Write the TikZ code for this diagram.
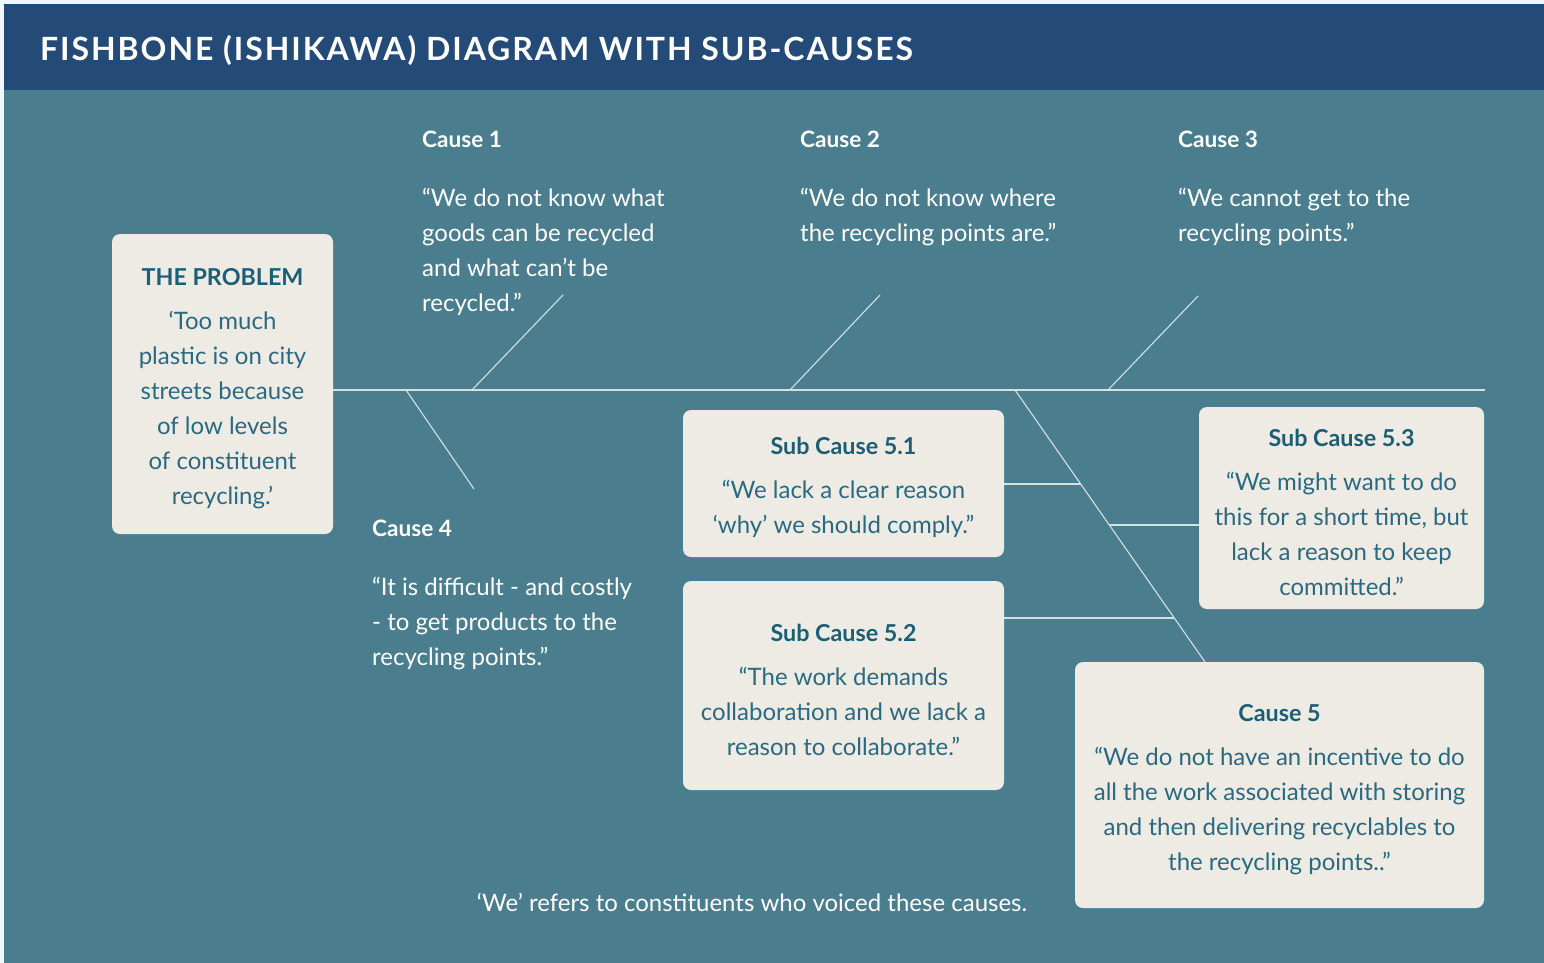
\documentclass[tikz,border=0pt]{standalone}
\usepackage{fontspec}
\setmainfont{Lato}
\newfontfamily\titlefont{Lato}[LetterSpace=6]
\definecolor{margincol}{HTML}{F2F6FA}
\definecolor{headcol}{HTML}{244A77}
\definecolor{tealbg}{HTML}{4A7E8E}
\definecolor{boxfill}{HTML}{EEEBE5}
\definecolor{boxhead}{HTML}{1C5E74}
\definecolor{boxtext}{HTML}{2A6A80}
\definecolor{linecol}{HTML}{D5E0E3}
\tikzset{
  box/.style={fill=boxfill, rounded corners=8pt, inner sep=0pt, align=center,
    font=\fontsize{24}{35}\selectfont, text=boxtext},
  bodytxt/.style={inner sep=0pt, align=left, text=white,
    font=\fontsize{24}{35}\selectfont},
  headtxt/.style={inner sep=0pt, text=white, font=\fontsize{22.6}{26}\selectfont\bfseries},
  spine/.style={draw=linecol, line width=1.6pt},
  bone/.style={draw=linecol, line width=1.1pt},
}
\newcommand{\bh}[1]{\rule{0pt}{26pt}{\color{boxhead}\fontsize{23.3}{26}\selectfont\bfseries #1}}
\begin{document}
\begin{tikzpicture}[x=1pt,y=-1pt]
\useasboundingbox (0,0) rectangle (1544,963);
\fill[margincol] (0,0) rectangle (1544,963);
\fill[tealbg] (4,90) rectangle (1544,963);
\fill[headcol] (4,4) rectangle (1544,90);
\node[inner sep=0pt, anchor=base west, text=white, font=\titlefont\fontsize{32}{36}\selectfont\bfseries] (title) at (40,61) {FISHBONE (ISHIKAWA) DIAGRAM WITH SUB-CAUSES};

% boxes
\node[box, minimum width=221pt, minimum height=300pt] (problem) at (222.5,384) {\bh{THE PROBLEM}\\[9pt]‘Too much\\plastic is on city\\streets because\\of low levels\\of constituent\\recycling.’};
\node[box, minimum width=321pt, minimum height=147pt] (sub51) at (843.5,483.5) {\bh{Sub Cause 5.1}\\[9pt]“We lack a clear reason\\‘why’ we should comply.”};
\node[box, minimum width=321pt, minimum height=209pt] (sub52) at (843.5,685.5) {\bh{Sub Cause 5.2}\\[9pt]“The work demands\\collaboration and we lack a\\reason to collaborate.”};
\node[box, minimum width=285pt, minimum height=202pt] (sub53) at (1341.5,508) {\bh{Sub Cause 5.3}\\[9pt]“We might want to do\\this for a short time, but\\lack a reason to keep\\committed.”};
\node[box, minimum width=409pt, minimum height=246pt] (cause5) at (1279.5,785) {\bh{Cause 5}\\[9pt]“We do not have an incentive to do\\all the work associated with storing\\and then delivering recyclables to\\the recycling points..”};

% cause texts (base anchor = baseline of last line)
\node[headtxt, anchor=base west] (c1h) at (422,147) {Cause 1};
\node[bodytxt, anchor=base west] (c1t) at (422,311) {“We do not know what\\goods can be recycled\\and what can’t be\\recycled.”};
\node[headtxt, anchor=base west] (c2h) at (800,147) {Cause 2};
\node[bodytxt, anchor=base west] (c2t) at (800,241) {“We do not know where\\the recycling points are.”};
\node[headtxt, anchor=base west] (c3h) at (1178,147) {Cause 3};
\node[bodytxt, anchor=base west] (c3t) at (1178,241) {“We cannot get to the\\recycling points.”};
\node[headtxt, anchor=base west] (c4h) at (372,536) {Cause 4};
\node[bodytxt, anchor=base west] (c4t) at (372,665) {“It is difficult - and costly\\- to get products to the\\recycling points.”};

\node[bodytxt, anchor=base] (note) at (752,911) {‘We’ refers to constituents who voiced these causes.};

% spine and bones
\coordinate (spineE) at (1485,390);
\draw[spine] (problem.east |- spineE) -- (spineE);
\coordinate (b1a) at (472,390); \coordinate (b1b) at (563,295);
\coordinate (b2a) at (790,390); \coordinate (b2b) at (880,295);
\coordinate (b3a) at (1108,390); \coordinate (b3b) at (1198,296);
\coordinate (b4a) at (406,390); \coordinate (b4b) at (474,489);
\coordinate (b5a) at (1015,390); \coordinate (b5b) at (1205,662);
\draw[bone] (b1a) -- (b1b);
\draw[bone] (b2a) -- (b2b);
\draw[bone] (b3a) -- (b3b);
\draw[bone] (b4a) -- (b4b);
\draw[bone] (b5a) -- (b5b);
\path (b5a) -- (b5b) coordinate[pos=0.3456] (j1) coordinate[pos=0.4963] (j2) coordinate[pos=0.8382] (j3);
\draw[bone] (sub51.east |- j1) -- (j1);
\draw[bone] (j2) -- (sub53.west |- j2);
\draw[bone] (sub52.east |- j3) -- (j3);
\end{tikzpicture}
\end{document}
